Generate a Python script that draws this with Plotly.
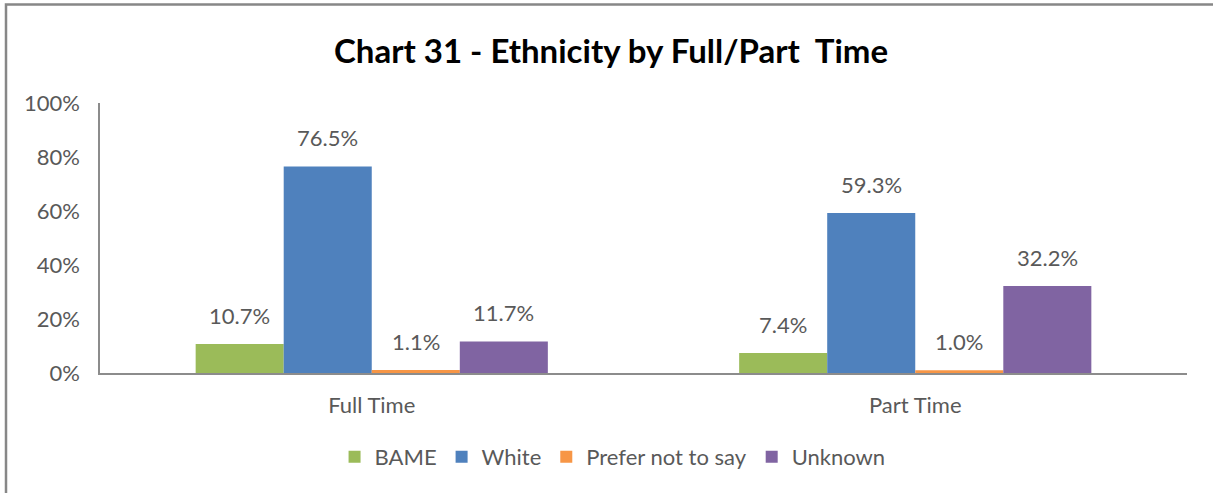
import plotly.graph_objects as go

# Chart data
categories = ["Full Time", "Part Time"]
series_names = ["BAME", "White", "Prefer not to say", "Unknown"]
bame = [10.7, 7.4]
white = [76.5, 59.3]
prefer_not = [1.1, 1.0]
unknown = [11.7, 32.2]
y_ticks = [0, 20, 40, 60, 80, 100]

colors = ["#9BBB59", "#4F81BD", "#F79646", "#8064A2"]
series_values = [bame, white, prefer_not, unknown]

FONT = "Lato"
GRAY = "#595959"
TXT = 22
W, H = 1213, 493
ML, MR, MT, MB = 100, 26, 103, 120
BARGAP = 0.352
pw, ph = W - ML - MR, H - MT - MB

fig = go.Figure()
for name, vals, col in zip(series_names, series_values, colors):
    fig.add_trace(go.Bar(
        x=categories, y=vals, name=name,
        marker=dict(color=col, line=dict(width=0)),
        hoverinfo="skip",
    ))

# Value labels above each bar, placed at the bar centres of the group
n = len(series_values)
bw = (1 - BARGAP) / n
annotations = []
for i, vals in enumerate(series_values):
    for j, v in enumerate(vals):
        annotations.append(dict(
            x=j + (i - (n - 1) / 2) * bw, y=v, xref="x", yref="y",
            text=f"{v:.1f}%", showarrow=False,
            yanchor="bottom", yshift=13,
            font=dict(family=FONT, size=TXT, color=GRAY),
        ))

# Title (pixel position converted to paper coordinates)
annotations.append(dict(
    x=(611 - ML) / pw, y=(H - 50 - MB) / ph, xref="paper", yref="paper",
    xanchor="center", yanchor="middle",
    text="<b>Chart 31 - Ethnicity by Full/Part  Time</b>", showarrow=False,
    font=dict(family=FONT, size=33, color="#000000"),
))

fig.update_layout(
    width=W, height=H,
    margin=dict(l=ML, r=MR, t=MT, b=MB, pad=0),
    paper_bgcolor="white", plot_bgcolor="white",
    barmode="group", bargap=BARGAP, bargroupgap=0,
    font=dict(family=FONT, size=TXT, color=GRAY),
    showlegend=True,
    legend=dict(
        orientation="h", xref="container", yref="container",
        x=0.505, xanchor="center", y=1 - 457 / H, yanchor="middle",
        font=dict(family=FONT, size=TXT, color=GRAY),
        itemwidth=30, tracegroupgap=0,
    ),
    annotations=annotations,
    shapes=[
        # outer chart frame (top and left edges visible)
        dict(type="rect", xref="paper", yref="paper",
             x0=(6 - ML) / pw, x1=(1230 - ML) / pw,
             y0=(H - 510 - MB) / ph, y1=(H - 4.5 - MB) / ph,
             line=dict(color="#878787", width=2.5), fillcolor="rgba(0,0,0,0)",
             layer="below"),
    ],
)

fig.update_xaxes(
    showline=True, linecolor="#8C8C8C", linewidth=2,
    showgrid=False, ticks="", ticklabelstandoff=12,
    tickfont=dict(family=FONT, size=TXT, color=GRAY),
    fixedrange=True,
)
fig.update_yaxes(
    range=[0, 100], tickvals=y_ticks, ticktext=[f"{t}%" for t in y_ticks],
    showline=True, linecolor="#8C8C8C", linewidth=1.5,
    showgrid=False, zeroline=False, ticks="", ticklabelstandoff=14,
    tickfont=dict(family=FONT, size=TXT, color=GRAY),
    fixedrange=True,
)

fig.write_html("out.html")
